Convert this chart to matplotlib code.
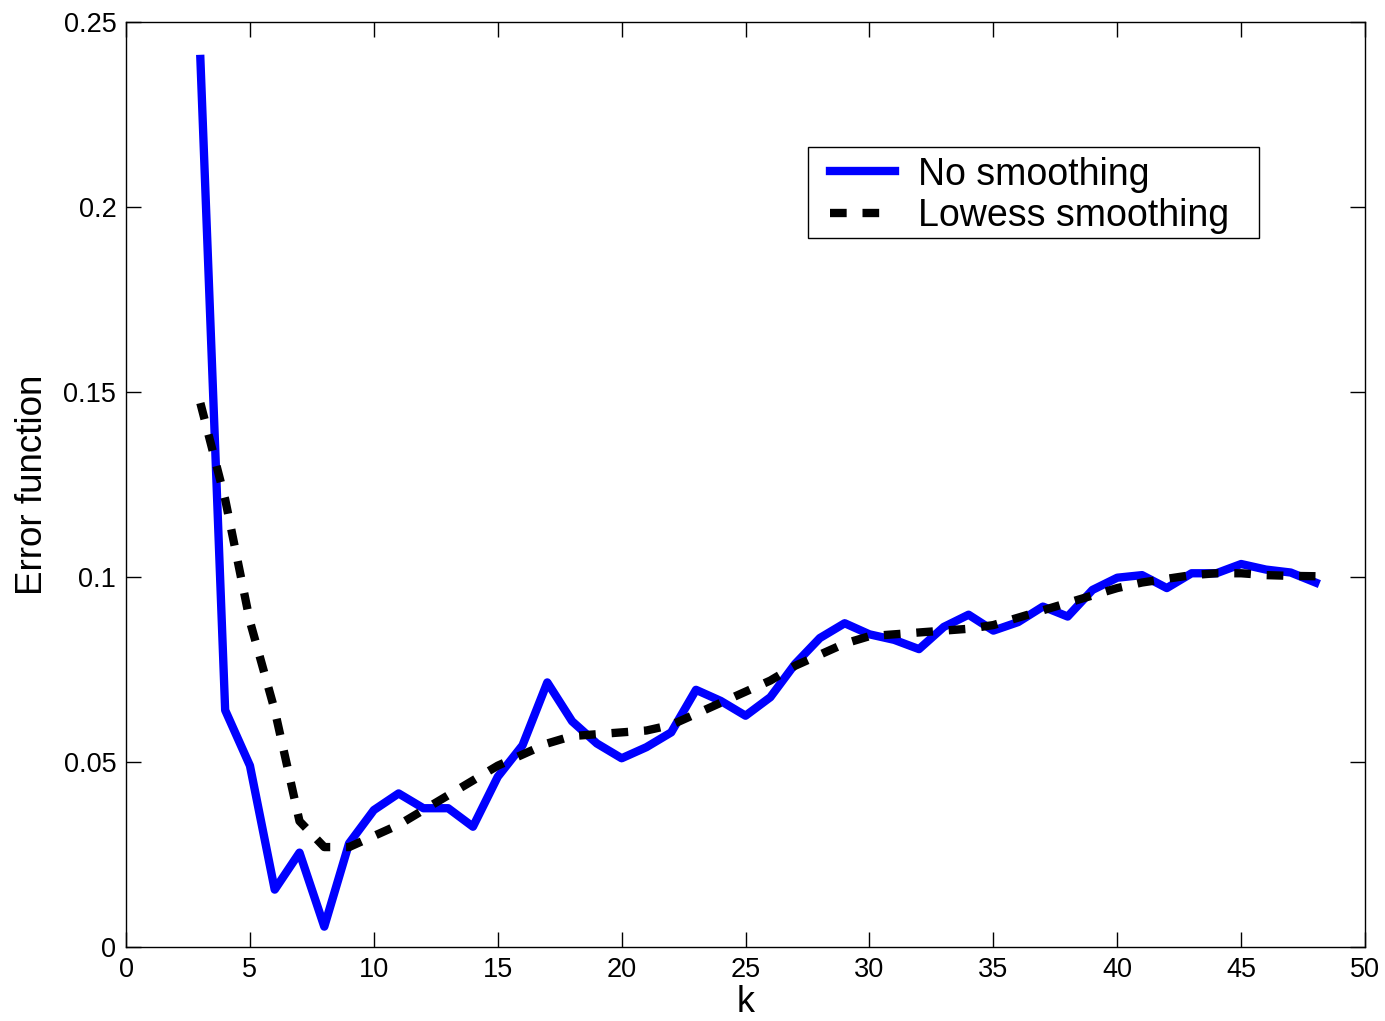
import numpy as np
import matplotlib.pyplot as plt
from matplotlib.patches import Rectangle

plt.rcParams['font.family'] = ['Liberation Sans', 'DejaVu Sans']

# ======================== Data ========================
k = list(range(3, 49))

no_smoothing = [0.240, 0.064, 0.049, 0.0155, 0.0255, 0.0055, 0.028, 0.037, 0.0415, 0.0375,
                0.0375, 0.0325, 0.046, 0.0545, 0.0715, 0.061, 0.055, 0.051, 0.054, 0.058,
                0.0695, 0.0665, 0.0625, 0.0675, 0.0765, 0.0835, 0.0875, 0.0845, 0.083, 0.0805,
                0.0865, 0.0898, 0.0855, 0.0878, 0.092, 0.0893, 0.0965, 0.0998, 0.1005, 0.097,
                0.101, 0.101, 0.1035, 0.102, 0.1012, 0.0985]

lowess = [0.147, 0.121, 0.088, 0.064, 0.034, 0.027, 0.027, 0.030, 0.033, 0.037,
          0.041, 0.045, 0.049, 0.052, 0.055, 0.057, 0.0575, 0.058, 0.0585, 0.060,
          0.063, 0.066, 0.069, 0.072, 0.076, 0.079, 0.082, 0.084, 0.0845, 0.085,
          0.0855, 0.086, 0.087, 0.089, 0.091, 0.093, 0.095, 0.097, 0.0985, 0.0995,
          0.1005, 0.101, 0.101, 0.1005, 0.1003, 0.1002]

# ======================== Plot ========================
fig = plt.figure(figsize=(13.85, 10.21), dpi=100)
ax = fig.add_axes([0.091, 0.0725, 0.8946, 0.906])

ax.plot(k, no_smoothing, color='#0000ff', lw=6, label='No smoothing')
ax.plot(k, lowess, color='black', lw=6, linestyle=(0, (2.0, 1.9)), label='Lowess smoothing')

ax.set_xlim(0, 50)
ax.set_ylim(0, 0.25)
ax.set_xticks(range(0, 51, 5))
ax.set_yticks([0, 0.05, 0.1, 0.15, 0.2, 0.25])
ax.set_yticklabels(['0', '0.05', '0.1', '0.15', '0.2', '0.25'])
ax.tick_params(direction='in', top=True, right=True, length=11, width=1, labelsize=19.5, pad=7)
for s in ax.spines.values():
    s.set_linewidth(1)

ax.set_xlabel('k', fontsize=26, labelpad=2)
ax.set_ylabel('Error function', fontsize=26.5, labelpad=10)

# legend: text/handles without frame, frame drawn as a box (MATLAB-like padding)
leg = ax.legend(loc='center left', bbox_to_anchor=(0.5682, 0.8125), fontsize=27,
                frameon=False, handlelength=1.73, borderpad=0, labelspacing=0.15,
                handletextpad=0.62, borderaxespad=0)
ax.add_patch(Rectangle((0.5504, 0.7665), 0.364, 0.0984, transform=ax.transAxes,
                       facecolor='white', edgecolor='black', lw=1, zorder=4))
leg.set_zorder(5)

fig.savefig('out.png', dpi=100)
